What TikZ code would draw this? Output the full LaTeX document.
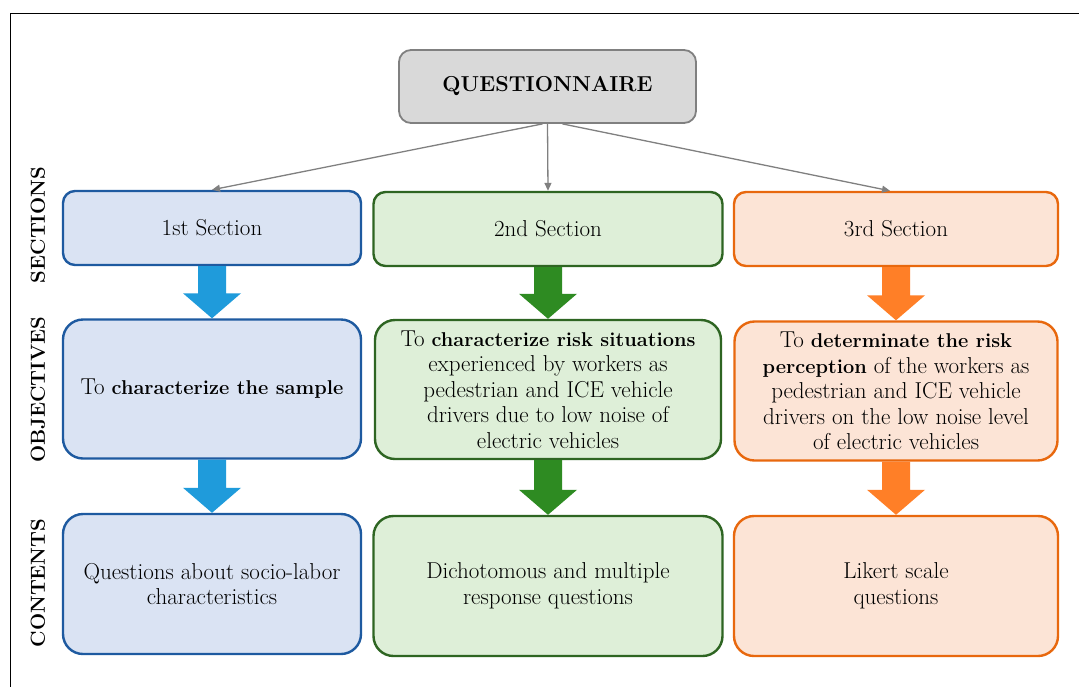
\documentclass[tikz,border=0pt]{standalone}
\usetikzlibrary{arrows.meta,calc}

\newcommand{\keyword}[1]{{\bfseries\fontsize{20}{25.5}\selectfont #1}}

\definecolor{bluefill}{HTML}{DAE3F3}
\definecolor{blueline}{HTML}{1E5AA0}
\definecolor{bluearrow}{HTML}{1F9BDB}
\definecolor{greenfill}{HTML}{DEEFD8}
\definecolor{greenline}{HTML}{2E6522}
\definecolor{greenarrow}{HTML}{2E8B22}
\definecolor{orangefill}{HTML}{FCE4D6}
\definecolor{orangeline}{HTML}{E8680E}
\definecolor{orangearrow}{HTML}{FF7F27}
\definecolor{grayfill}{HTML}{D9D9D9}
\definecolor{grayline}{HTML}{808080}

\tikzset{
  box/.style={draw, rounded corners=12pt, line width=2.4pt, align=center,
    inner sep=0pt, font=\fontsize{23}{25.5}\selectfont},
  bluebox/.style={box, draw=blueline, fill=bluefill},
  greenbox/.style={box, draw=greenline, fill=greenfill},
  orangebox/.style={box, draw=orangeline, fill=orangefill},
  graybox/.style={box, draw=grayline, fill=grayfill, line width=1.8pt},
  sectionrow/.style={minimum height=74pt},
  objectiverow/.style={minimum height=139pt, rounded corners=20pt},
  contentrow/.style={minimum height=140pt, rounded corners=20pt},
  conn/.style={draw=grayline, line width=1.3pt, -{Triangle[length=8pt,width=7pt]}},
  rowlabel/.style={rotate=90, font=\bfseries\fontsize{20.3}{21}\selectfont},
}

% block arrow from the bottom of one box to the top of the next
\newcommand{\blockdown}[3]{%
  \fill[#3] ($(#1.south)+(-14,0)$) -- ($(#2.north)+(-14,-25)$)
    -- ($(#2.north)+(-29,-25)$) -- (#2.north) -- ($(#2.north)+(29,-25)$)
    -- ($(#2.north)+(14,-25)$) -- ($(#1.south)+(14,0)$) -- cycle;}

\begin{document}
\begin{tikzpicture}[x=1pt, y=-1pt]
    \useasboundingbox (0,0) rectangle (1079,686);
    \clip (0,0) rectangle (1079,686);
    \fill[white] (0,0) rectangle (1079,686);
    \draw[line width=1.5pt] (10.5,700) -- (10.5,13.5) -- (1100,13.5);

    % row labels
    \node[rowlabel] (lsec) at (38,225) {SECTIONS};
    \node[rowlabel] (lobj) at (38,390) {OBJECTIVES};
    \node[rowlabel] (lcon) at (38,583) {CONTENTS};

    % boxes
    \node[graybox, minimum width=297pt, minimum height=73pt,
      font=\bfseries\fontsize{21.6}{26}\selectfont] (quest) at (547.5,86.5) {QUESTIONNAIRE};

    \node[bluebox, sectionrow, minimum width=298pt] (sec1) at (212,228) {1st Section};
    \node[greenbox, sectionrow, minimum width=349pt] (sec2) at (548,229) {2nd Section};
    \node[orangebox, sectionrow, minimum width=324pt] (sec3) at (896,229) {3rd Section};

    \node[bluebox, objectiverow, minimum width=298pt] (obj1) at (212,389)
      {To \keyword{characterize the sample}};
    \node[greenbox, objectiverow, minimum width=346pt] (obj2) at (548,389.5)
      {To \keyword{characterize risk situations}\\ experienced by workers as\\
       pedestrian and ICE vehicle\\ drivers due to low noise of\\ electric vehicles};
    \node[orangebox, objectiverow, minimum width=323pt] (obj3) at (896,391)
      {To \keyword{determinate the risk}\\ \keyword{perception} of the workers as\\
       pedestrian and ICE vehicle\\ drivers on the low noise level\\ of electric vehicles};

    \node[bluebox, contentrow, minimum width=298pt] (con1) at (212,584)
      {Questions about socio-labor\\ characteristics};
    \node[greenbox, contentrow, minimum width=349pt] (con2) at (548,586)
      {Dichotomous and multiple\\ response questions};
    \node[orangebox, contentrow, minimum width=324pt] (con3) at (896,586)
      {Likert scale\\ questions};

    % block arrows
    \blockdown{sec1}{obj1}{bluearrow}
    \blockdown{obj1}{con1}{bluearrow}
    \blockdown{sec2}{obj2}{greenarrow}
    \blockdown{obj2}{con2}{greenarrow}
    \blockdown{sec3}{obj3}{orangearrow}
    \blockdown{obj3}{con3}{orangearrow}

    % connectors
    \draw[conn] ([xshift=-5pt]quest.south) -- (sec1.north);
    \draw[conn] (quest.south) -- (sec2.north);
    \draw[conn] ([xshift=15pt]quest.south) -- ([xshift=-6pt]sec3.north);
\end{tikzpicture}
\end{document}
